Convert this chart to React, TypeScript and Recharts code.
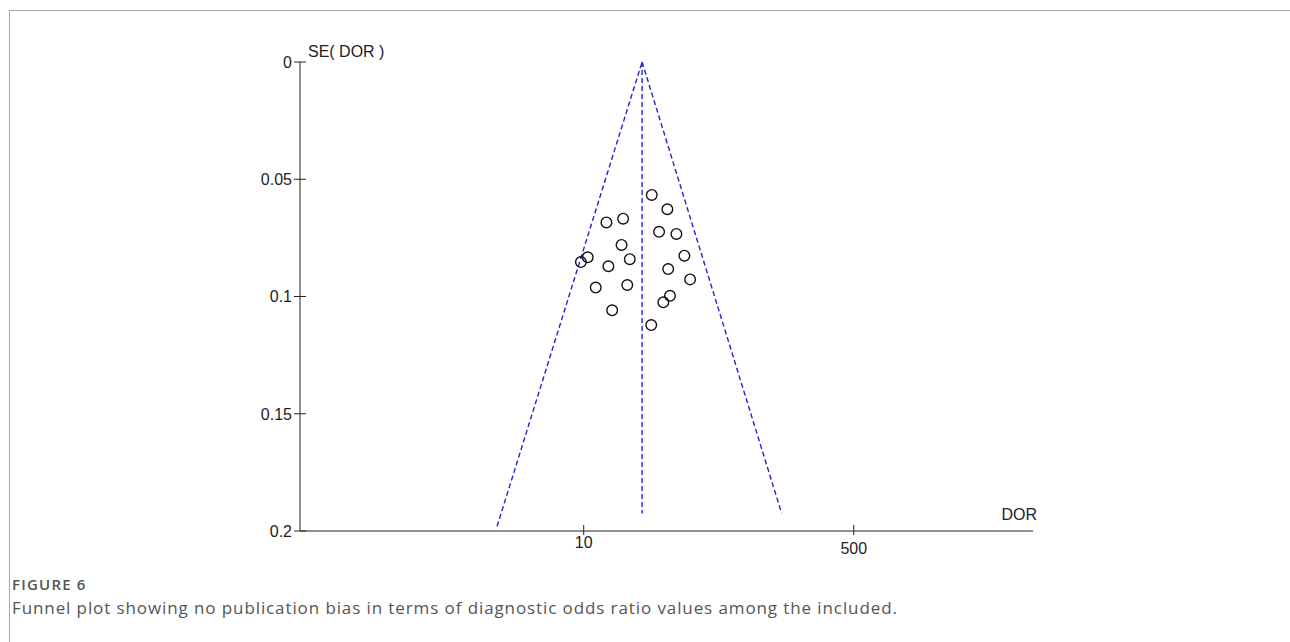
import React from 'react';
import { ScatterChart, Scatter, XAxis, YAxis, ReferenceLine } from 'recharts';

// Study estimates (DOR on log axis, SE(DOR) on reversed axis)
const studyDor = [26.8, 33.6, 13.9, 17.7, 29.8, 38.3, 17.3, 10.6, 9.6, 14.3, 19.5, 43.0, 34.0, 46.7, 11.9, 18.8, 34.9, 31.7, 15.1, 26.6];
const studySe = [0.0567, 0.0628, 0.0684, 0.0668, 0.0724, 0.0733, 0.078, 0.0833, 0.0853, 0.0871, 0.0841, 0.0826, 0.0883, 0.0927, 0.0962, 0.0951, 0.0997, 0.1025, 0.1059, 0.1122];

// Funnel: left foot, apex, right foot
const funnelDor = [2.85, 23.3, 176];
const funnelSe = [0.198, 0, 0.1925];
// Summary (vertical) line
const centerDor = 23.3;
const centerSe = [0, 0.1925];

const xTicks = [10, 500];
const xTickLabels = ['10', '500'];
const yTicks = [0, 0.05, 0.1, 0.15, 0.2];
const yTickLabels = ['0', '0.05', '0.1', '0.15', '0.2'];

const points = studyDor.map((d, i) => ({ dor: d, se: studySe[i] }));

const FONT = '"Liberation Sans", Arial, sans-serif';
const INK = '#222';
const BLUE = '#2222d8';

const YTick = (props: any) => {
  const { x, y, index } = props;
  return (
    <g>
      <line x1={x - 6} x2={x + 6} y1={y} y2={y} stroke={INK} strokeWidth={1} />
      <text x={x - 8} y={y} dy="0.36em" textAnchor="end" fontFamily={FONT} fontSize={16} fill={INK}>
        {yTickLabels[index]}
      </text>
    </g>
  );
};

const XTick = (props: any) => {
  const { x, y, index } = props;
  const base = index === 0 ? 17 : 23;
  return (
    <g>
      <line x1={x} x2={x} y1={y - 6} y2={y + 4} stroke={INK} strokeWidth={1} />
      <text x={x} y={y + base} textAnchor="middle" fontFamily={FONT} fontSize={16} fill={INK}>
        {xTickLabels[index]}
      </text>
    </g>
  );
};

const Ring = (props: any) => {
  const { cx, cy } = props;
  return <circle cx={cx} cy={cy} r={5.3} fill="none" stroke="#111" strokeWidth={1.4} />;
};

export default function App() {
  return (
    <div style={{ position: 'absolute', left: 0, top: 0, width: 1290, height: 642, background: '#fff', overflow: 'hidden' }}>
      <div style={{ position: 'absolute', left: 9, top: 10, width: 1290, height: 700, borderTop: '1px solid #aaa', borderLeft: '1px solid #aaa' }} />
      <div style={{ position: 'absolute', left: 0, top: 0 }}>
        <ScatterChart width={1290} height={642} margin={{ top: 62, right: 257, bottom: 81, left: 240 }}>
          <XAxis
            type="number"
            dataKey="dor"
            scale="log"
            domain={[0.164, 6714]}
            allowDataOverflow
            ticks={xTicks}
            tick={<XTick />}
            tickLine={false}
            tickSize={0}
            tickMargin={0}
            height={30}
            axisLine={{ stroke: INK, strokeWidth: 1 }}
            label={{
              content: (p: any) => {
                const vb = p.viewBox || {};
                return (
                  <text x={vb.x + vb.width + 4} y={vb.y - 11} textAnchor="end" fontFamily={FONT} fontSize={16} fill={INK}>
                    DOR
                  </text>
                );
              },
            }}
          />
          <YAxis
            type="number"
            dataKey="se"
            reversed
            domain={[0, 0.2]}
            allowDataOverflow
            ticks={yTicks}
            tick={<YTick />}
            tickLine={false}
            tickSize={0}
            tickMargin={0}
            width={60}
            axisLine={{ stroke: INK, strokeWidth: 1 }}
            label={{
              content: (p: any) => {
                const vb = p.viewBox || {};
                return (
                  <text x={vb.x + vb.width + 8} y={vb.y - 5} textAnchor="start" fontFamily={FONT} fontSize={16} fill={INK}>
                    SE( DOR )
                  </text>
                );
              },
            }}
          />
          <ReferenceLine
            segment={[{ x: funnelDor[0], y: funnelSe[0] }, { x: funnelDor[1], y: funnelSe[1] }]}
            stroke={BLUE}
            strokeWidth={1.4}
            strokeDasharray="5 3"
          />
          <ReferenceLine
            segment={[{ x: funnelDor[1], y: funnelSe[1] }, { x: funnelDor[2], y: funnelSe[2] }]}
            stroke={BLUE}
            strokeWidth={1.4}
            strokeDasharray="5 3"
          />
          <ReferenceLine
            segment={[{ x: centerDor, y: centerSe[0] }, { x: centerDor, y: centerSe[1] }]}
            stroke={BLUE}
            strokeWidth={1.4}
            strokeDasharray="5 3"
          />
          <Scatter data={points} shape={<Ring />} isAnimationActive={false} />
        </ScatterChart>
      </div>
      <div style={{ position: 'absolute', left: 12, top: 574, fontFamily: '"Open Sans", sans-serif', fontSize: 15, fontWeight: 600, color: '#555', lineHeight: '20px', letterSpacing: 1.2 }}>
        FIGURE 6
      </div>
      <div style={{ position: 'absolute', left: 12, top: 597, fontFamily: '"Open Sans", sans-serif', fontSize: 17, color: '#555', lineHeight: '22px', whiteSpace: 'nowrap', letterSpacing: 0.9 }}>
        Funnel plot showing no publication bias in terms of diagnostic odds ratio values among the included.
      </div>
    </div>
  );
}
